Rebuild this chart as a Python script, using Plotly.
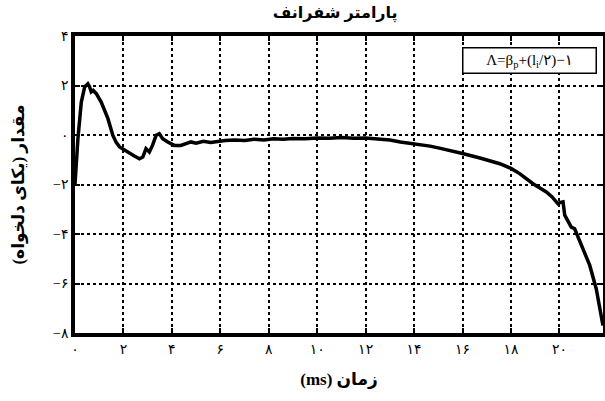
import plotly.graph_objects as go

time_ms = [0.0, 0.05, 0.12, 0.26, 0.4, 0.53, 0.6, 0.67, 0.75, 0.88, 1.0, 1.08, 1.2, 1.36,
           1.56, 1.7, 1.84, 2.05, 2.25, 2.45, 2.66, 2.8, 2.93, 3.07, 3.2, 3.35, 3.48, 3.62,
           3.83, 4.1, 4.37, 4.6, 4.79, 5.0, 5.3, 5.6, 5.88, 6.2, 6.6, 7.0, 7.4, 7.8, 8.2,
           8.6, 9.0, 9.5, 10.0, 10.5, 11.0, 11.5, 12.0, 12.5, 13.0, 13.43, 14.0, 14.66,
           15.0, 15.48, 16.0, 16.72, 17.2, 17.54, 18.0, 18.36, 18.91, 19.46, 19.7, 19.94,
           20.05, 20.15, 20.22, 20.35, 20.49, 20.63, 20.9, 21.25, 21.52, 21.73, 21.8]
lambda_vals = [-2.0, -1.1, -0.15, 1.33, 1.94, 2.07, 1.95, 1.74, 1.8, 1.67, 1.5, 1.33, 1.05, 0.66,
               -0.01, -0.3, -0.48, -0.62, -0.75, -0.85, -0.96, -0.89, -0.55, -0.69, -0.42, -0.01,
               0.05, -0.15, -0.28, -0.42, -0.42, -0.35, -0.28, -0.33, -0.25, -0.3, -0.25, -0.22,
               -0.2, -0.22, -0.17, -0.2, -0.15, -0.17, -0.14, -0.15, -0.12, -0.13, -0.1, -0.13,
               -0.12, -0.15, -0.2, -0.28, -0.35, -0.45, -0.52, -0.62, -0.75, -0.93, -1.05, -1.16,
               -1.35, -1.56, -1.97, -2.3, -2.5, -2.78, -2.72, -2.7, -3.24, -3.5, -3.72, -3.79,
               -4.46, -5.26, -6.21, -7.28, -7.7]

x_tick_vals = [0, 2, 4, 6, 8, 10, 12, 14, 16, 18, 20]
x_tick_text = ["۰", "۲", "۴", "۶", "۸", "۱۰", "۱۲", "۱۴", "۱۶", "۱۸", "۲۰"]
y_tick_vals = [4, 2, 0, -2, -4, -6, -8]
y_tick_text = ["۴", "۲", "۰", "−۲", "−۴", "−۶", "−۸"]

title_text = "پارامتر شفرانف"
x_title = "\u202bزمان (ms)\u202c"
y_title = "\u202bمقدار (یکای دلخواه)\u202c"
legend_text = "Λ=β<sub>p</sub>+(l<sub>i</sub>/۲)−۱"

FONT = "Liberation Serif, DejaVu Sans, serif"

fig = go.Figure()
fig.add_trace(go.Scatter(x=time_ms, y=lambda_vals, mode="lines",
                         line=dict(color="black", width=3.5), showlegend=False))

axis_common = dict(showline=True, linecolor="black", linewidth=3.5, mirror="ticks",
                   ticks="inside", ticklen=5, tickwidth=1.5, tickcolor="black",
                   showgrid=True, gridcolor="black", griddash="dot", gridwidth=1.6,
                   zeroline=False, automargin=False,
                   tickfont=dict(family=FONT, size=14, color="black"))

fig.update_xaxes(range=[0, 21.8], tickvals=x_tick_vals, ticktext=x_tick_text,
                 title=dict(text="<b>" + x_title + "</b>",
                            font=dict(family=FONT, size=17, color="black"), standoff=19),
                 **axis_common)
fig.update_yaxes(range=[-8, 4], tickvals=y_tick_vals, ticktext=y_tick_text,
                 title=dict(text="<b>" + y_title + "</b>",
                            font=dict(family=FONT, size=17, color="black"), standoff=25),
                 **axis_common)

fig.add_annotation(x=0.9886, y=0.963, xref="paper", yref="paper", xanchor="right", yanchor="top",
                   text=legend_text, showarrow=False, bgcolor="white", bordercolor="black",
                   borderwidth=1.5, borderpad=3,
                   font=dict(family=FONT, size=15, color="black"), width=126, align="center")

fig.update_layout(
    width=605, height=401,
    margin=dict(l=75, r=2, t=36, b=68, autoexpand=False),
    paper_bgcolor="white", plot_bgcolor="white",
    title=dict(text="<b>" + title_text + "</b>", x=0.554, xanchor="center", y=0.982, yanchor="top",
               automargin=False, font=dict(family=FONT, size=16, color="black")),
    font=dict(family=FONT, color="black"),
)

fig.write_html("out.html", config={"displayModeBar": False},
               post_script="document.body.style.margin='0';document.body.style.overflow='hidden';")
